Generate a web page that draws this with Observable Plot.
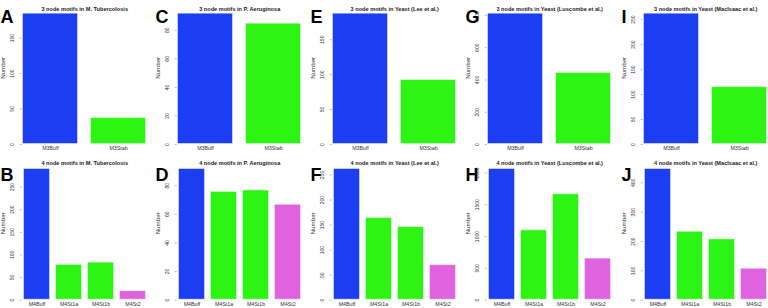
<!DOCTYPE html>
<html><head><meta charset="utf-8">
<script src="https://cdn.jsdelivr.net/npm/d3@7"></script>
<script src="https://cdn.jsdelivr.net/npm/@observablehq/plot@0.6"></script>
<style>
html,body{margin:0;padding:0;background:#fff;}
body{width:768px;height:308px;overflow:hidden;position:relative;font-family:"Liberation Sans",Arial,sans-serif;}
.panel{position:absolute;width:155px;height:154px;}
</style></head><body>
<script>
// ---- data ----
const networks = ["M. Tubercolosis", "P. Aeruginosa", "Yeast (Lee et al.)", "Yeast (Luscombe et al.)", "Yeast (MacIsaac et al.)"];
const motifs3 = ["M3Buff", "M3Stab"];
const motifs4 = ["M4Buff", "M4St1a", "M4St1b", "M4St2"];
const letters3 = ["A", "C", "E", "G", "I"];
const letters4 = ["B", "D", "F", "H", "J"];
const counts3 = [[185, 38], [92, 85], [188, 93], [814, 446], [263, 116]];
const counts4 = [[291, 79, 84, 21], [92, 76, 77, 67], [263, 165, 147, 71], [2070, 1105, 1672, 661], [449, 235, 209, 109]];
const ticks3 = [[0, 50, 100, 150], [0, 20, 40, 60, 80], [0, 50, 100, 150], [0, 200, 400, 600, 800], [0, 50, 100, 150, 200, 250]];
const ticks4 = [[0, 50, 100, 150, 200, 250], [0, 20, 40, 60, 80], [0, 50, 100, 150, 200, 250], [0, 500, 1000, 1500, 2000], [0, 100, 200, 300, 400]];
const colors3 = ["#1c3ef2", "#2cf513"];
const colors4 = ["#1c3ef2", "#2cf513", "#2cf513", "#df63df"];

function panel(row, i) {
  const motifs = row === 0 ? motifs3 : motifs4;
  const counts = (row === 0 ? counts3 : counts4)[i];
  const ticks = (row === 0 ? ticks3 : ticks4)[i];
  const colors = row === 0 ? colors3 : colors4;
  const letter = (row === 0 ? letters3 : letters4)[i];
  const title = (row === 0 ? "3" : "4") + " node motifs in " + networks[i];
  const data = motifs.map((m, j) => ({motif: m, count: counts[j]}));
  const mt = row === 0 ? 12.7 : 14;
  const mb = row === 0 ? 10 : 8.3;
  return Plot.plot({
    width: 155, height: 154,
    marginLeft: 21.7, marginRight: 8.3, marginTop: mt, marginBottom: mb,
    style: {fontFamily: "Liberation Sans, Arial, sans-serif", background: "transparent", color: "#333", overflow: "visible"},
    x: {domain: motifs, paddingInner: 0.17, paddingOuter: 0},
    y: {domain: [0, d3.max(counts)]},
    color: {domain: motifs, range: colors},
    marks: [
      Plot.barY(data, {x: "motif", y: "count", fill: "motif", stroke: "white", strokeOpacity: 0.45, strokeWidth: 1, inset: 0.5}),
      Plot.axisX({tickSize: 0, tickPadding: 2, fontSize: 5.3, label: null}),
      Plot.axisY({ticks, tickFormat: d => String(d), tickSize: 2, tickPadding: 8, tickRotate: -90, textAnchor: "middle", lineAnchor: "middle", fontSize: 5, label: null, stroke: "#bbb"}),
      Plot.text(["Number"], {text: d => d, frameAnchor: "left", dx: -18.7, rotate: -90, fontSize: 6.2, fill: "#333"}),
      Plot.text([title], {text: d => d, frameAnchor: "top", dy: row === 0 ? -6 : -7.3, fontSize: 5.6, fontWeight: "bold", fill: "#222"}),
      Plot.text([letter], {text: d => d, frameAnchor: "top-left", dx: -21.7, dy: row === 0 ? -3.2 : 0, textAnchor: "start", fontSize: 18, fontWeight: "bold", fill: "#000"})
    ]
  });
}

for (let row = 0; row < 2; row++) {
  for (let i = 0; i < 5; i++) {
    const div = document.createElement("div");
    div.className = "panel";
    div.style.left = (i * 155.15) + "px";
    div.style.top = (row * 154) + "px";
    div.appendChild(panel(row, i));
    document.body.appendChild(div);
  }
}
</script>
</body></html>
